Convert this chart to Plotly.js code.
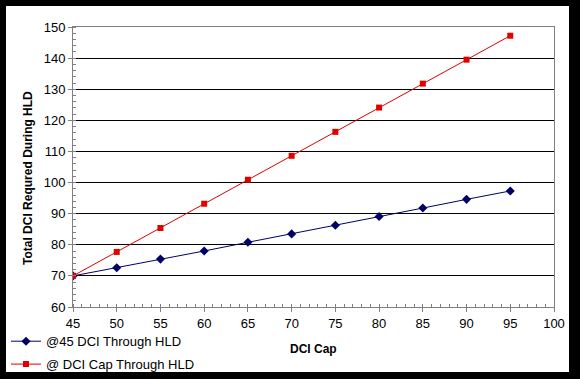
<!DOCTYPE html>
<html>
<head>
<meta charset="utf-8">
<script src="https://cdn.plot.ly/plotly-3.0.1.min.js"></script>
<style>
html,body{margin:0;padding:0;background:#000;width:580px;height:379px;overflow:hidden;}
#chart{position:absolute;left:6px;top:6px;width:563px;height:366px;background:#fff;}
</style>
</head>
<body>
<div id="chart"></div>
<script>
const dciCap = [45, 50, 55, 60, 65, 70, 75, 80, 85, 90, 95];
const at45Through = [70, 72.6, 75.4, 78.0, 80.8, 83.5, 86.3, 89.1, 91.8, 94.6, 97.3];
const capThrough = [70, 77.7, 85.4, 93.2, 100.9, 108.6, 116.3, 124.1, 131.8, 139.5, 147.2];
const seriesNames = ["@45 DCI Through HLD", "@ DCI Cap Through HLD"];
const xTitle = "DCI Cap";
const yTitle = "Total DCI Requred During HLD";

const font = "Arial, 'Liberation Sans', sans-serif";

const traces = [
  {x: dciCap, y: at45Through, name: seriesNames[0], legendgroup: "a", type: "scatter", mode: "lines+markers",
   line: {color: "#000066", width: 1}, marker: {symbol: "diamond", size: 7, color: "#000066"}},
  {x: dciCap, y: capThrough, name: seriesNames[1], legendgroup: "b", type: "scatter", mode: "lines+markers",
   line: {color: "#E00000", width: 1}, marker: {symbol: "square", size: 6, color: "#E00000"}}
];

const layout = {
  width: 563, height: 366,
  margin: {l: 67, r: 15, t: 21, b: 65, autoexpand: false},
  paper_bgcolor: "#fff", plot_bgcolor: "#fff",
  font: {family: font, size: 13, color: "#000"},
  showlegend: true,
  legend: {xref: "container", yref: "container", x: 0.0, y: 0.125, xanchor: "left", yanchor: "top",
           traceorder: "grouped", tracegroupgap: 3,
           bgcolor: "rgba(0,0,0,0)", font: {family: font, size: 13, color: "#000"}},
  xaxis: {
    range: [45, 100], dtick: 5, tick0: 45, showgrid: false, zeroline: false, automargin: false,
    showline: true, linecolor: "#808080", linewidth: 1, mirror: true,
    ticks: "outside", ticklen: 4, tickcolor: "#808080",
    minor: {dtick: 1, ticks: "inside", ticklen: 3, tickcolor: "#808080", showgrid: false},
    tickfont: {family: font, size: 13, color: "#000"}
  },
  yaxis: {
    range: [60, 150], dtick: 10, showgrid: true, gridcolor: "#000", gridwidth: 1, zeroline: false, automargin: false,
    showline: true, linecolor: "#808080", linewidth: 1, mirror: true,
    ticks: "outside", ticklen: 4, tickcolor: "#808080",
    minor: {dtick: 2, ticks: "inside", ticklen: 3, tickcolor: "#808080", showgrid: false},
    tickfont: {family: font, size: 13, color: "#000"}
  },
  annotations: [
    {text: "<b>" + xTitle + "</b>", xref: "paper", yref: "paper", x: 0.5, y: -0.15,
     xanchor: "center", yanchor: "middle", showarrow: false, font: {family: font, size: 12, color: "#000"}},
    {text: "<b>" + yTitle + "</b>", xref: "paper", yref: "paper", x: -0.094, y: 0.46, textangle: -90,
     xanchor: "center", yanchor: "middle", showarrow: false, font: {family: font, size: 12, color: "#000"}}
  ]
};

Plotly.newPlot("chart", traces, layout, {displayModeBar: false, staticPlot: true});
</script>
</body>
</html>
